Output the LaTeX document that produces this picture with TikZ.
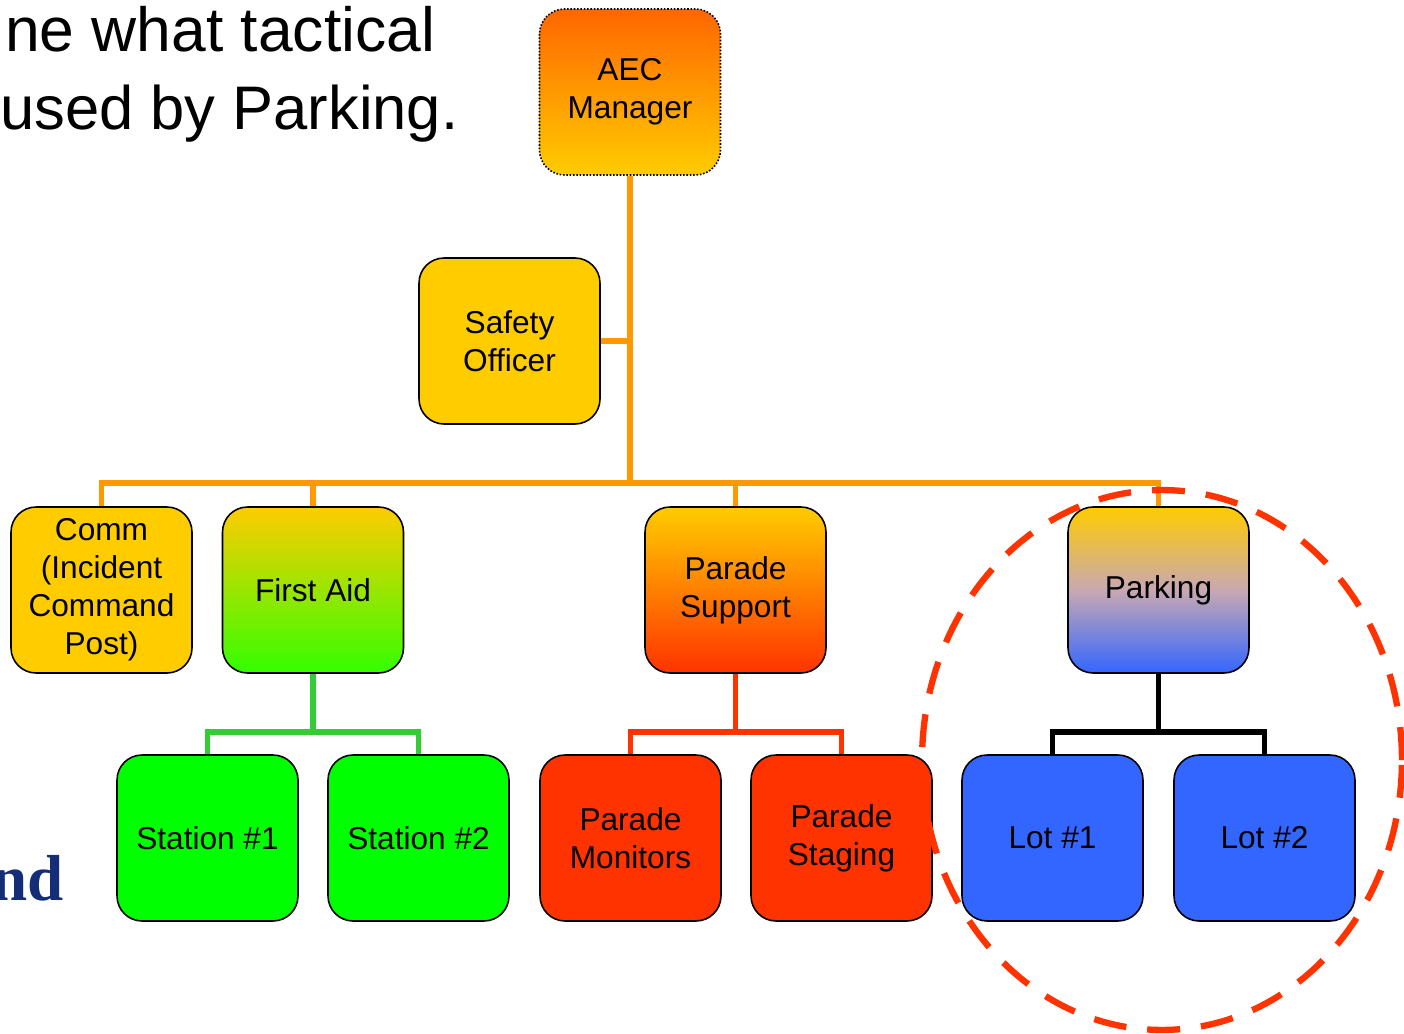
\documentclass[tikz,border=0pt]{standalone}
\usepackage{fontspec}
\setmainfont{Liberation Sans}
\newfontfamily\logofont{Liberation Serif}
\definecolor{orgline}{HTML}{FF9900}
\definecolor{grnline}{HTML}{33CC33}
\definecolor{redline}{HTML}{FF3300}
\definecolor{boxyellow}{HTML}{FFCC00}
\definecolor{boxorange}{HTML}{FF6600}
\definecolor{boxgreen}{HTML}{00FF00}
\definecolor{boxlime}{HTML}{33FF00}
\definecolor{boxred}{HTML}{FF3300}
\definecolor{boxblue}{HTML}{3366FF}
\definecolor{boxmauve}{HTML}{C8A8B2}
\definecolor{logoblue}{RGB}{20,45,120}
\begin{document}
\begin{tikzpicture}[x=0.02cm,y=-0.02cm,
    box/.style={draw,line width=0.9pt,rounded corners=0.5cm,minimum width=3.62cm,
        minimum height=3.32cm,inner sep=0pt,align=center,
        font=\fontsize{18}{21.6}\selectfont},
    link/.style={line width=3.4pt},
    ]
        \useasboundingbox (0,0) rectangle (1404,1034);
        \node (title1) at (-1,52)[anchor=base west,font=\fontsize{35.5}{42}\selectfont]{ne what tactical};
        \node (title2) at (-6,130)[anchor=base west,font=\fontsize{35}{42}\selectfont]{used by Parking.};
        \node (logo) at (70,900)[anchor=base east,text=logoblue,font=\logofont\bfseries\fontsize{37}{44}\selectfont]{nd};

        \node (aec) at (630,92)[box,densely dotted,top color=boxorange,bottom color=boxyellow]{AEC\\Manager};
        \node (safety) at (509.5,341)[box,fill=boxyellow]{Safety\\Officer};
        \node (comm) at (101.5,590)[box,fill=boxyellow]{Comm\\(Incident\\Command\\Post)};
        \node (firstaid) at (313,590)[box,top color=boxyellow,bottom color=boxlime]{First Aid};
        \node (support) at (735.5,590)[box,top color=boxyellow,bottom color=boxred]{Parade\\Support};
        \node (parking) at (1158.5,590)[box,top color=boxyellow,bottom color=boxblue,middle color=boxmauve]{Parking};
        \node (st1) at (207.5,838)[box,fill=boxgreen]{Station \#1};
        \node (st2) at (418.5,838)[box,fill=boxgreen]{Station \#2};
        \node (monitors) at (630.5,838)[box,fill=boxred]{Parade\\Monitors};
        \node (staging) at (841.5,838)[box,fill=boxred]{Parade\\Staging};
        \node (lot1) at (1052.5,838)[box,fill=boxblue]{Lot \#1};
        \node (lot2) at (1264.5,838)[box,fill=boxblue]{Lot \#2};

        \coordinate (bus) at (630,483);
        \draw [link,orgline] (aec) -- (bus);
        \draw [link,orgline] (safety.east) -- (safety.east -| aec);
        \draw [link,orgline] (comm.north) |- (bus) -| (parking.north);
        \foreach \b in {firstaid,support}{
            \draw [link,orgline] (\b.north) -- (\b.north |- bus);
        }
        \draw [link,grnline] (firstaid.south) -- ++(0,58) coordinate (fa);
        \draw [link,grnline] (st1.north) |- (fa) -| (st2.north);
        \draw [link,redline] (support.south) -- ++(0,58) coordinate (ps);
        \draw [link,redline] (monitors.north) |- (ps) -| (staging.north);
        \draw [link,black] (parking.south) -- ++(0,58) coordinate (pk);
        \draw [link,black] (lot1.north) |- (pk) -| (lot2.north);

        \draw [redline,line width=3.6pt,dash pattern=on 0.66cm off 0.42cm] (1162,760) ellipse [x radius=4.8cm,y radius=5.4cm];
\end{tikzpicture}
\end{document}
